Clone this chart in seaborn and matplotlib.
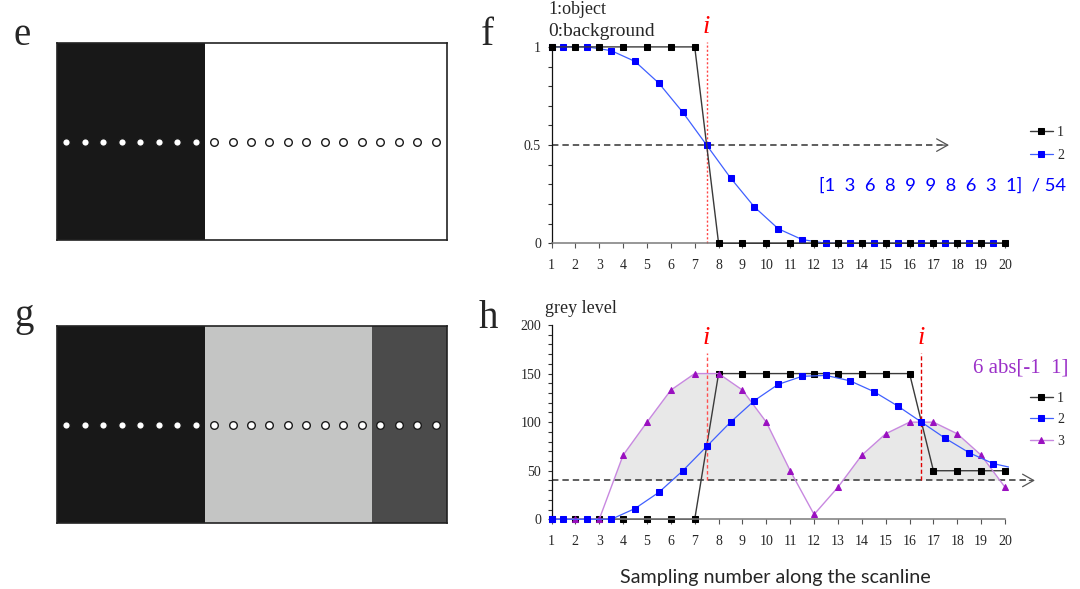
import numpy as np
import pandas as pd
import matplotlib
matplotlib.use("Agg")
import matplotlib.pyplot as plt
import seaborn as sns
from matplotlib.ticker import MultipleLocator
from matplotlib.transforms import Bbox, TransformedBbox

# ---------------- data ----------------
samples = list(range(1, 21))
half_samples_f = [1] + [k + 0.5 for k in range(1, 20)]
half_samples_h = [1] + [k + 0.5 for k in range(1, 21)]

# f: binary profile and its smoothed version
binary_profile = [1, 1, 1, 1, 1, 1, 1, 0, 0, 0, 0, 0, 0, 0, 0, 0, 0, 0, 0, 0]
smoothed_profile = [1, 1, 1, 0.981, 0.926, 0.815, 0.667, 0.5, 0.333, 0.185,
                    0.074, 0.019, 0, 0, 0, 0, 0, 0, 0, 0]

# h: grey-level profile, smoothed profile and gradient magnitude
grey_profile = [0, 0, 0, 0, 0, 0, 0, 150, 150, 150, 150, 150, 150, 150, 150, 150,
                50, 50, 50, 50]
grey_smoothed = [0, 0, 0, 0, 11.1, 27.8, 50, 75, 100, 122.2, 138.9, 147.2, 148.1,
                 142.6, 131.5, 116.7, 100, 83.3, 68.5, 57.4, 51.9]
gradient = [0, 0, 0, 66, 100, 133, 150, 150, 133, 100, 50, 5, 33, 66, 88, 100,
            100, 88, 66, 33]

threshold_f = 0.5
threshold_h = 40
edges_f = [7.5]
edges_h = [7.5, 16.5]
kernel_text = "[1  3  6  8  9  9  8  6  3  1]  / 54"
gradient_text = "6 abs[-1  1]"

# e / g: scanline sample dots over the test images
scan_positions = list(range(1, 22))
e_regions = [0.5, 8.51, 21.61]
e_colors = ["#181818", "#ffffff"]
g_regions = [0.5, 8.51, 17.55, 21.61]
g_colors = ["#181818", "#c4c5c4", "#4b4b4b"]

# ---------------- style ----------------
sns.set_style("ticks")
SERIF = ["Liberation Serif", "DejaVu Serif"]
SANS = ["Lato", "DejaVu Sans"]
plt.rcParams["font.family"] = SERIF

W, H = 1080, 589
fig = plt.figure(figsize=(W / 100, H / 100), dpi=100)
renderer = fig.canvas.get_renderer()


def fx(x):
    return x / W


def fy(y):
    return 1 - y / H


def fit_width(txt, width_px):
    """Scale a text's font size so that it spans the given pixel width."""
    w = txt.get_window_extent(renderer=renderer).width
    txt.set_fontsize(txt.get_fontsize() * width_px / w)


BLACK_LINE = "#3a3a3a"
BLUE = "#0000ff"
BLUE_LINE = "#4060ff"
PURPLE = "#9a10c0"
PURPLE_LINE = "#c888e0"


def scan_panel(rect, bounds, colors):
    ax = fig.add_axes(rect)
    for (a, b), c in zip(zip(bounds[:-1], bounds[1:]), colors):
        ax.axvspan(a, b, color=c, lw=0)
    df = pd.DataFrame({"x": scan_positions, "y": [0.5] * len(scan_positions)})
    sns.scatterplot(data=df, x="x", y="y", ax=ax, s=30, color="white",
                    edgecolor="#1a1a1a", linewidth=1.0, zorder=3, legend=False)
    ax.set_xlim(bounds[0], bounds[-1])
    ax.set_ylim(0, 1)
    ax.set_xticks([])
    ax.set_yticks([])
    ax.set_xlabel("")
    ax.set_ylabel("")
    for s in ax.spines.values():
        s.set_visible(True)
        s.set_color("#222222")
        s.set_linewidth(1.2)
    return ax


ax_e = scan_panel([fx(57), fy(240), 390 / W, 197 / H], e_regions, e_colors)
ax_g = scan_panel([fx(57), fy(523.3), 390 / W, 197.3 / H], g_regions, g_colors)

X0_PX, UNIT_PX = 551.5, 23.87
XMAX = 20.17
ax_w = (XMAX - 1) * UNIT_PX


def style_profile_axis(ax):
    ax.set_xlim(1, XMAX)
    sns.despine(ax=ax)
    ax.spines["left"].set_color("#111111")
    ax.spines["left"].set_linewidth(0.9)
    ax.spines["bottom"].set_color("#7a7a7a")
    ax.spines["bottom"].set_linewidth(1.1)
    ax.spines["bottom"].set_bounds(1, 20)
    ax.set_xticks(samples)
    ax.set_xticklabels([str(s) for s in samples])
    ax.tick_params(axis="x", direction="out", length=3.5, width=0.8,
                   color="#555555", pad=7.5, labelsize=10)
    ax.tick_params(axis="y", which="both", direction="out", length=3, width=0.8,
                   color="#333333", pad=4.5, labelsize=10)
    ax.set_xlabel("")
    ax.set_ylabel("")


# ---------------- f ----------------
ax_f = fig.add_axes([fx(X0_PX), fy(243.3), ax_w / W, 196.4 / H])
style_profile_axis(ax_f)
ax_f.set_ylim(0, 1)
ax_f.set_yticks([0, 0.5, 1])
ax_f.set_yticklabels(["0", "0.5", "1"])
ax_f.yaxis.set_minor_locator(MultipleLocator(0.1))

ax_f.plot([1, 17.5], [threshold_f, threshold_f], color="#333333", lw=1.1,
          dashes=(4.2, 2.6), clip_on=False, zorder=1)
ax_f.annotate("", xy=(17.77, threshold_f), xytext=(17.3, threshold_f),
              arrowprops=dict(arrowstyle="->,head_length=0.8,head_width=0.45",
                              color="#555555", lw=0.9),
              annotation_clip=False)

sns.lineplot(x=samples, y=binary_profile, ax=ax_f, color=BLACK_LINE, lw=1.0,
             marker="s", markersize=4.2, markerfacecolor="black",
             markeredgecolor="black", label="1", clip_on=False, zorder=4)
sns.lineplot(x=half_samples_f, y=smoothed_profile, ax=ax_f, color=BLUE_LINE,
             lw=0.9, marker="s", markersize=4.2, markerfacecolor=BLUE,
             markeredgecolor=BLUE, label="2", clip_on=False, zorder=3)

for e in edges_f:
    ax_f.plot([e, e], [0, 1.026], color="#ff4545", lw=1.0, ls=(0, (1.5, 1.5)),
              clip_on=False, zorder=2)
    ax_f.text(e, 1.1, "i", color="red", fontsize=19, style="italic",
              ha="center", va="center")

ax_f.legend(loc="upper left", bbox_to_anchor=(fx(1030), fy(126)),
            bbox_transform=fig.transFigure, frameon=False, fontsize=10,
            handlelength=1.65, handletextpad=0.3, labelspacing=0.72,
            borderpad=0, borderaxespad=0)

kt = fig.text(fx(819), fy(186), kernel_text, color=BLUE, family=SANS,
              fontsize=15, ha="left", va="center")
fit_width(kt, 247)

# ---------------- h ----------------
ax_h = fig.add_axes([fx(X0_PX), fy(519.3), ax_w / W, 194.3 / H])
style_profile_axis(ax_h)
ax_h.set_ylim(0, 200)
ax_h.set_yticks([0, 50, 100, 150, 200])
ax_h.yaxis.set_minor_locator(MultipleLocator(10))

g_arr = np.array(gradient, dtype=float)
ax_h.fill_between(samples, threshold_h, g_arr, where=g_arr >= threshold_h,
                  interpolate=True, color="#e8e8e8", lw=0, zorder=0.5)

ax_h.plot([1, 21.0], [threshold_h, threshold_h], color="#333333", lw=1.1,
          dashes=(4.2, 2.6), clip_on=False, zorder=1)
ax_h.annotate("", xy=(21.37, threshold_h), xytext=(20.9, threshold_h),
              arrowprops=dict(arrowstyle="->,head_length=0.8,head_width=0.45",
                              color="#555555", lw=0.9),
              annotation_clip=False)

sns.lineplot(x=samples, y=grey_profile, ax=ax_h, color=BLACK_LINE, lw=1.0,
             marker="s", markersize=4.2, markerfacecolor="black",
             markeredgecolor="black", label="1", clip_on=False, zorder=2)
sns.lineplot(x=half_samples_h, y=grey_smoothed, ax=ax_h, color=BLUE_LINE,
             lw=0.9, marker="s", markersize=4.2, markerfacecolor=BLUE,
             markeredgecolor=BLUE, label="2", zorder=4,
             markevery=list(range(len(half_samples_h) - 1)))
blue_line = ax_h.lines[-1]
blue_line.set_clip_on(True)
blue_line.set_clip_box(TransformedBbox(Bbox([[0, -20], [XMAX, 220]]),
                                       ax_h.transData))
sns.lineplot(x=samples, y=gradient, ax=ax_h, color=PURPLE_LINE, lw=1.0,
             marker="^", markersize=5, markerfacecolor=PURPLE,
             markeredgecolor=PURPLE, label="3", clip_on=False, zorder=3)

edge_styles = [dict(color="#ff5050", ls=(0, (2.5, 1.8))),
               dict(color="#e00000", ls=(0, (3, 1.8)))]
for e, st in zip(edges_h, edge_styles):
    ax_h.plot([e, e], [threshold_h, 171], lw=1.0, clip_on=False, zorder=2, **st)
    ax_h.text(e, 187, "i", color="red", fontsize=19, style="italic",
              ha="center", va="center")

ax_h.legend(loc="upper left", bbox_to_anchor=(fx(1030), fy(392)),
            bbox_transform=fig.transFigure, frameon=False, fontsize=10,
            handlelength=1.65, handletextpad=0.3, labelspacing=0.6,
            borderpad=0, borderaxespad=0)

gt = fig.text(fx(972.7), fy(368), gradient_text, color="#9b30c8", fontsize=15,
              ha="left", va="center")
fit_width(gt, 95.6)

# ---------------- annotations ----------------
fig.text(fx(548), fy(10), "1:object", fontsize=13, ha="left", va="center")
bg = fig.text(fx(548), fy(32), "0:background", fontsize=13, ha="left", va="center")
fit_width(bg, 106)
fig.text(fx(545), fy(308), "grey level", fontsize=13, ha="left", va="center")

for letter, x, y in [("e", 22.5, 45), ("f", 487, 45), ("g", 24, 326), ("h", 488, 328)]:
    fig.text(fx(x), fy(y), letter, fontsize=28, ha="center", va="baseline")

xl = fig.text(fx(775), fy(577), "Sampling number along the scanline", family=SANS,
              fontsize=14, ha="center", va="center")
fit_width(xl, 313)

fig.savefig("out.png", dpi=100)
